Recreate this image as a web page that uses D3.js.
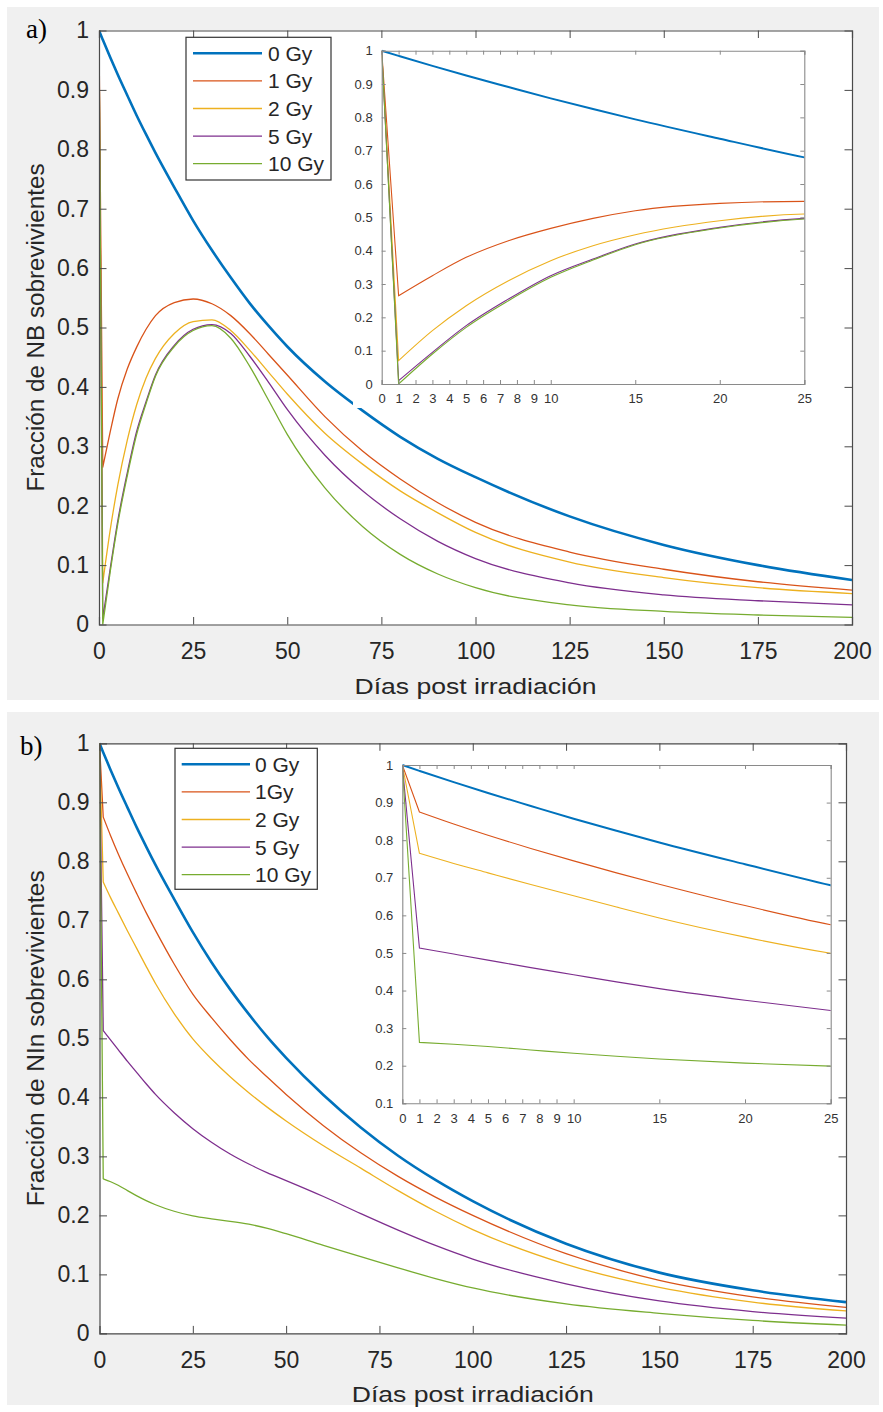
<!DOCTYPE html>
<html>
<head>
<meta charset="utf-8">
<script src="https://cdn.jsdelivr.net/npm/d3@7/dist/d3.min.js"></script>
<style>
  html, body { margin: 0; padding: 0; background: #ffffff; }
  svg { display: block; }
  text { font-family: "Liberation Sans", Arial, Helvetica, sans-serif; }
</style>
</head>
<body>
<svg id="chart" width="883" height="1412"></svg>
<script>
// ---------------- DATA ----------------
const days = [0, 1, 3, 5, 7.5, 10, 12.5, 15, 20, 25, 30, 35, 40, 45, 50, 60, 70, 80, 90, 100, 125, 150, 175, 200];

const doseLabelsA = ["0 Gy", "1 Gy", "2 Gy", "5 Gy", "10 Gy"];
const doseLabelsB = ["0 Gy", "1Gy", "2 Gy", "5 Gy", "10 Gy"];

// a) Fracción de NB sobrevivientes
const nb0Gy  = [1, 0.9845, 0.9545, 0.9255, 0.891, 0.857, 0.825, 0.794, 0.736, 0.680, 0.630, 0.584, 0.541, 0.503, 0.468, 0.409, 0.360, 0.316, 0.279, 0.248, 0.182, 0.134, 0.100, 0.075];
const nb1Gy  = [1, 0.265, 0.325, 0.380, 0.430, 0.467, 0.497, 0.520, 0.542, 0.548, 0.540, 0.520, 0.490, 0.455, 0.420, 0.350, 0.292, 0.245, 0.205, 0.172, 0.122, 0.093, 0.072, 0.058];
const nb2Gy  = [1, 0.070, 0.160, 0.235, 0.310, 0.370, 0.415, 0.448, 0.490, 0.510, 0.513, 0.495, 0.462, 0.425, 0.388, 0.322, 0.270, 0.225, 0.188, 0.155, 0.105, 0.079, 0.062, 0.052];
const nb5Gy  = [1, 0.010, 0.095, 0.175, 0.255, 0.325, 0.375, 0.420, 0.470, 0.497, 0.505, 0.490, 0.452, 0.408, 0.362, 0.285, 0.225, 0.178, 0.140, 0.111, 0.070, 0.050, 0.040, 0.033];
const nb10Gy = [1, 0.000, 0.090, 0.170, 0.250, 0.320, 0.372, 0.418, 0.468, 0.495, 0.503, 0.482, 0.435, 0.378, 0.320, 0.230, 0.165, 0.118, 0.085, 0.062, 0.033, 0.022, 0.016, 0.012];

// b) Fracción de NIn sobrevivientes
const nin0Gy  = [1, 0.9845, 0.9545, 0.9255, 0.891, 0.857, 0.825, 0.794, 0.736, 0.680, 0.629, 0.583, 0.541, 0.502, 0.467, 0.404, 0.349, 0.301, 0.260, 0.224, 0.152, 0.103, 0.073, 0.053];
const nin1Gy  = [1, 0.875, 0.843, 0.813, 0.778, 0.745, 0.713, 0.683, 0.626, 0.575, 0.535, 0.498, 0.464, 0.434, 0.405, 0.352, 0.306, 0.266, 0.231, 0.200, 0.135, 0.090, 0.062, 0.044];
const nin2Gy  = [1, 0.765, 0.738, 0.713, 0.682, 0.652, 0.622, 0.593, 0.542, 0.499, 0.465, 0.435, 0.408, 0.383, 0.360, 0.318, 0.280, 0.242, 0.207, 0.176, 0.117, 0.078, 0.053, 0.038];
const nin5Gy  = [1, 0.513, 0.497, 0.481, 0.461, 0.442, 0.423, 0.405, 0.374, 0.347, 0.324, 0.304, 0.287, 0.272, 0.259, 0.232, 0.203, 0.175, 0.149, 0.126, 0.084, 0.055, 0.037, 0.026];
const nin10Gy = [1, 0.262, 0.257, 0.251, 0.242, 0.233, 0.225, 0.218, 0.207, 0.199, 0.194, 0.190, 0.185, 0.178, 0.169, 0.149, 0.130, 0.111, 0.093, 0.077, 0.050, 0.034, 0.022, 0.014];

const mainXTicks = [0, 25, 50, 75, 100, 125, 150, 175, 200];
const mainYTicks = [0, 0.1, 0.2, 0.3, 0.4, 0.5, 0.6, 0.7, 0.8, 0.9, 1];
const insetXTicks = [0, 1, 2, 3, 4, 5, 6, 7, 8, 9, 10, 15, 20, 25];
const insetYTicksA = [0, 0.1, 0.2, 0.3, 0.4, 0.5, 0.6, 0.7, 0.8, 0.9, 1];
const insetYTicksB = [0.1, 0.2, 0.3, 0.4, 0.5, 0.6, 0.7, 0.8, 0.9, 1];

const seriesColors = ["#0072BD", "#D95319", "#EDB120", "#7E2F8E", "#77AC30"];

// ---------------- DRAWING ----------------
const svg = d3.select("#chart");
const fmtTick = v => (v === 0 ? "0" : v === 1 ? "1" : d3.format(".1f")(v));

function seriesPath(xs, ys, vals) {
  const pts = days.map((d, i) => [xs(d), ys(vals[i])]);
  const head = d3.line()(pts.slice(0, 2));
  const tail = d3.line().curve(d3.curveMonotoneX)(pts.slice(1));
  return head + "L" + tail.slice(1);
}

function drawPanel(cfg, idx) {
  const g = svg.append("g");
  g.append("rect").attr("x", cfg.bg.x).attr("y", cfg.bg.y).attr("width", cfg.bg.w).attr("height", cfg.bg.h)
    .attr("fill", "#f0f0f0");

  const m = cfg.main;
  const x = d3.scaleLinear().domain([0, 200]).range([m.l, m.r]);
  const y = d3.scaleLinear().domain([0, 1]).range([m.b, m.t]);

  g.append("rect").attr("x", m.l).attr("y", m.t).attr("width", m.r - m.l).attr("height", m.b - m.t).attr("fill", "#fff");

  const clipId = "clipMain" + idx;
  g.append("clipPath").attr("id", clipId).append("rect")
    .attr("x", m.l).attr("y", m.t - 2).attr("width", m.r - m.l).attr("height", m.b - m.t + 2);

  const curves = g.append("g").attr("clip-path", `url(#${clipId})`);
  cfg.series.forEach((vals, i) => {
    curves.append("path").attr("d", seriesPath(x, y, vals))
      .attr("fill", "none").attr("stroke", seriesColors[i])
      .attr("stroke-width", i === 0 ? 2.6 : 1.3).attr("stroke-linejoin", "round");
  });

  const axisColor = "#4a4a4a";
  const tl = 7.5;
  const xAxB = g.append("g").attr("transform", `translate(0,${m.b})`)
    .call(d3.axisBottom(x).tickValues(mainXTicks).tickSize(-tl).tickPadding(18).tickFormat(d3.format("d")));
  const xAxT = g.append("g").attr("transform", `translate(0,${m.t})`)
    .call(d3.axisTop(x).tickValues(mainXTicks).tickSize(-tl).tickFormat(""));
  const yAxL = g.append("g").attr("transform", `translate(${m.l},0)`)
    .call(d3.axisLeft(y).tickValues(mainYTicks).tickSize(-tl).tickPadding(10).tickFormat(fmtTick));
  const yAxR = g.append("g").attr("transform", `translate(${m.r},0)`)
    .call(d3.axisRight(y).tickValues(mainYTicks).tickSize(-tl).tickFormat(""));
  [xAxB, xAxT, yAxL, yAxR].forEach(a => {
    a.select(".domain").attr("stroke", axisColor).attr("stroke-width", 1.2);
    a.selectAll(".tick line").attr("stroke", axisColor).attr("stroke-width", 1);
    a.selectAll("text").attr("fill", "#262626").style("font-size", "23px")
      .style("font-family", '"Liberation Sans", Arial, sans-serif');
  });
  [xAxB, xAxT].forEach(a => a.selectAll(".tick line").filter(d => d === 0 || d === 200).remove());
  [yAxL, yAxR].forEach(a => a.selectAll(".tick line").filter(d => d === 0 || d === 1).remove());
  xAxB.selectAll("text").attr("dy", "0.71em");

  g.append("text").attr("x", (m.l + m.r) / 2).attr("y", m.b + 61.5).attr("text-anchor", "middle")
    .attr("dominant-baseline", "central").attr("fill", "#262626").style("font-size", "22px")
    .attr("textLength", cfg.xlabelLen).attr("lengthAdjust", "spacingAndGlyphs")
    .text("Días post irradiación");
  g.append("text").attr("transform", `translate(${cfg.ylabelX},${(m.t + m.b) / 2}) rotate(-90)`)
    .attr("text-anchor", "middle").attr("dominant-baseline", "central").attr("fill", "#262626")
    .style("font-size", "23px")
    .attr("textLength", cfg.ylabelLen).attr("lengthAdjust", "spacingAndGlyphs")
    .text(cfg.ylabel);

  g.append("text").attr("x", cfg.tag.x).attr("y", cfg.tag.y).attr("fill", "#000")
    .style("font-family", '"Liberation Serif", "Times New Roman", serif').style("font-size", "27px")
    .text(cfg.tag.text);

  const L = cfg.legend;
  const lg = g.append("g").attr("transform", `translate(${L.x},${L.y})`);
  lg.append("rect").attr("width", L.w).attr("height", L.h).attr("fill", "#fff")
    .attr("stroke", "#333").attr("stroke-width", 1.2);
  cfg.labels.forEach((lab, i) => {
    const ry = 16 + i * 27.6;
    lg.append("line").attr("x1", L.lx1).attr("x2", L.lx2).attr("y1", ry).attr("y2", ry)
      .attr("stroke", seriesColors[i]).attr("stroke-width", i === 0 ? 2.6 : 1.3);
    lg.append("text").attr("x", L.tx).attr("y", ry).attr("dominant-baseline", "central")
      .attr("fill", "#262626").style("font-size", "21px").text(lab);
  });

  const I = cfg.inset;
  g.append("rect").attr("x", cfg.insetBg.x).attr("y", cfg.insetBg.y).attr("width", cfg.insetBg.w)
    .attr("height", cfg.insetBg.h).attr("fill", "#fff");
  const xi = d3.scaleLinear().domain([0, 25]).range([I.l, I.r]);
  const yi = d3.scaleLinear().domain(cfg.insetYDomain).range([I.b, I.t]);
  const clipI = "clipInset" + idx;
  g.append("clipPath").attr("id", clipI).append("rect")
    .attr("x", I.l).attr("y", I.t - 2).attr("width", I.r - I.l).attr("height", I.b - I.t + 2);
  const ic = g.append("g").attr("clip-path", `url(#${clipI})`);
  cfg.series.forEach((vals, i) => {
    ic.append("path").attr("d", seriesPath(xi, yi, vals))
      .attr("fill", "none").attr("stroke", seriesColors[i])
      .attr("stroke-width", i === 0 ? 2 : 1.1).attr("stroke-linejoin", "miter");
  });
  const iColor = "#8a8a8a";
  const itl = 4;
  const ixB = g.append("g").attr("transform", `translate(0,${I.b})`)
    .call(d3.axisBottom(xi).tickValues(insetXTicks).tickSize(-itl).tickPadding(10).tickFormat(d3.format("d")));
  const ixT = g.append("g").attr("transform", `translate(0,${I.t})`)
    .call(d3.axisTop(xi).tickValues(insetXTicks).tickSize(-itl).tickFormat(""));
  const iyL = g.append("g").attr("transform", `translate(${I.l},0)`)
    .call(d3.axisLeft(yi).tickValues(cfg.insetYTicks).tickSize(-itl).tickPadding(9).tickFormat(fmtTick));
  const iyR = g.append("g").attr("transform", `translate(${I.r},0)`)
    .call(d3.axisRight(yi).tickValues(cfg.insetYTicks).tickSize(-itl).tickFormat(""));
  [ixB, ixT, iyL, iyR].forEach(a => {
    a.select(".domain").attr("stroke", iColor).attr("stroke-width", 1.1);
    a.selectAll(".tick line").attr("stroke", iColor).attr("stroke-width", 1);
    a.selectAll("text").attr("fill", "#333").style("font-size", "13px")
      .style("font-family", '"Liberation Sans", Arial, sans-serif');
  });
}

const panels = [
  {
    bg: { x: 7, y: 7, w: 872, h: 693 },
    main: { l: 99, r: 852, t: 30.5, b: 624.5 },
    inset: { l: 381.7, r: 804.3, t: 50.7, b: 384 },
    insetBg: { x: 353, y: 40, w: 482, h: 368 },
    insetYDomain: [0, 1],
    insetYTicks: insetYTicksA,
    legend: { x: 186, y: 37.3, w: 145, h: 142.7, lx1: 7, lx2: 76, tx: 82 },
    labels: doseLabelsA,
    series: [nb0Gy, nb1Gy, nb2Gy, nb5Gy, nb10Gy],
    ylabel: "Fracción de NB sobrevivientes",
    ylabelX: 36, ylabelLen: 328, xlabelLen: 242,
    tag: { x: 26, y: 38, text: "a)" }
  },
  {
    bg: { x: 7, y: 712, w: 872, h: 693 },
    main: { l: 99.5, r: 846, t: 743.3, b: 1333.4 },
    inset: { l: 402.3, r: 830.7, t: 765, b: 1103.3 },
    insetBg: { x: 372, y: 752, w: 466, h: 380 },
    insetYDomain: [0.1, 1],
    insetYTicks: insetYTicksB,
    legend: { x: 175, y: 748.3, w: 142.3, h: 141, lx1: 6.7, lx2: 75, tx: 80 },
    labels: doseLabelsB,
    series: [nin0Gy, nin1Gy, nin2Gy, nin5Gy, nin10Gy],
    ylabel: "Fracción de NIn sobrevivientes",
    ylabelX: 36, ylabelLen: 336, xlabelLen: 242,
    tag: { x: 20, y: 755, text: "b)" }
  }
];

panels.forEach((p, i) => drawPanel(p, i));
</script>
</body>
</html>
